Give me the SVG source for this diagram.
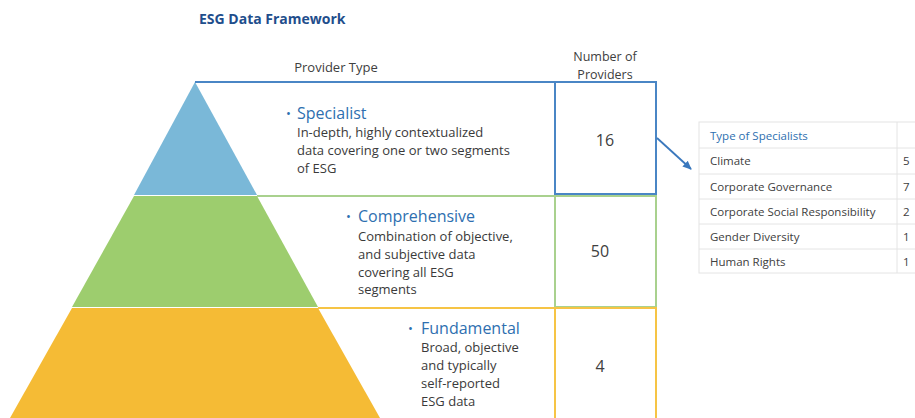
<svg xmlns="http://www.w3.org/2000/svg" width="915" height="418" viewBox="0 0 915 418">
<defs>
<style>
text{font-family:"Open Sans","Noto Sans","Liberation Sans",sans-serif;}
.title{font-size:14px;font-weight:bold;fill:#1f4e8c;}
.hdr{font-size:13px;fill:#404040;}
.hdr2{font-size:12.5px;fill:#404040;}
.head{font-size:16px;fill:#2e6fb0;}
.bul{font-size:13px;fill:#2e6fb0;}
.desc{font-size:13px;fill:#3a3a3a;}
.num{font-size:16px;fill:#404040;text-anchor:middle;}
.tbl{font-size:11.5px;fill:#404040;}
.tblh{font-size:11.5px;fill:#2e6fb0;}
.grid{stroke:#e4e4e4;stroke-width:1;fill:none;}
</style>
<marker id="ah" markerWidth="10" markerHeight="10" refX="8" refY="5" orient="auto" markerUnits="userSpaceOnUse">
<path d="M0,1 L9,5 L0,9 z" fill="#3a78bd"/>
</marker>
</defs>
<rect width="915" height="418" fill="#ffffff"/>
<text class="title" x="199" y="24">ESG Data Framework</text>
<text class="hdr" x="336" y="72" text-anchor="middle">Provider Type</text>
<text class="hdr2" x="605" y="61" text-anchor="middle">Number of</text>
<text class="hdr2" x="605" y="79" text-anchor="middle">Providers</text>

<g id="specialist">
<polygon points="195,82 257,195 134,195" fill="#7ab8d8"/>
<line x1="195" y1="82" x2="656" y2="82" stroke="#4a86c5" stroke-width="2"/>
<rect x="555" y="82" width="101" height="112" fill="none" stroke="#4a86c5" stroke-width="2"/>
<text class="bul" x="286" y="118">•</text>
<text class="head" x="297" y="119">Specialist</text>
<text class="desc" x="297" y="137">In-depth, highly contextualized</text>
<text class="desc" x="297" y="155">data covering one or two segments</text>
<text class="desc" x="297" y="173">of ESG</text>
<text class="num" x="605" y="146">16</text>
</g>

<g id="comprehensive">
<polygon points="134,196 257,196 318,307 72,307" fill="#9dcd6e"/>
<line x1="257" y1="196" x2="656" y2="196" stroke="#a9d18e" stroke-width="2"/>
<rect x="555" y="196" width="101" height="111" fill="none" stroke="#a9d18e" stroke-width="2"/>
<text class="bul" x="346" y="221">•</text>
<text class="head" x="358" y="222">Comprehensive</text>
<text class="desc" x="358" y="241">Combination of objective,</text>
<text class="desc" x="358" y="259">and subjective data</text>
<text class="desc" x="358" y="277">covering all ESG</text>
<text class="desc" x="358" y="294">segments</text>
<text class="num" x="600" y="257">50</text>
</g>

<g id="fundamental">
<polygon points="72,308 318,308 380,418 10,418" fill="#f5bb35"/>
<line x1="318" y1="308" x2="656" y2="308" stroke="#f6c445" stroke-width="2"/>
<rect x="555" y="308" width="101" height="112" fill="none" stroke="#f6c445" stroke-width="2"/>
<text class="bul" x="408" y="333">•</text>
<text class="head" x="421" y="334">Fundamental</text>
<text class="desc" x="421" y="352">Broad, objective</text>
<text class="desc" x="421" y="370">and typically</text>
<text class="desc" x="421" y="388">self-reported</text>
<text class="desc" x="421" y="406">ESG data</text>
<text class="num" x="600" y="372">4</text>
</g>

<g id="specialist-table">
<rect x="699" y="122" width="230" height="151" class="grid"/>
<line class="grid" x1="699" y1="148" x2="915" y2="148"/>
<line class="grid" x1="699" y1="174" x2="915" y2="174"/>
<line class="grid" x1="699" y1="199" x2="915" y2="199"/>
<line class="grid" x1="699" y1="224" x2="915" y2="224"/>
<line class="grid" x1="699" y1="249" x2="915" y2="249"/>
<line class="grid" x1="897" y1="122" x2="897" y2="273"/>
<text class="tblh" x="710" y="140">Type of Specialists</text>
<text class="tbl" x="710" y="165">Climate</text>
<text class="tbl" x="710" y="191">Corporate Governance</text>
<text class="tbl" x="710" y="216">Corporate Social Responsibility</text>
<text class="tbl" x="710" y="241">Gender Diversity</text>
<text class="tbl" x="710" y="266">Human Rights</text>
<text class="tbl" x="903" y="165">5</text>
<text class="tbl" x="903" y="191">7</text>
<text class="tbl" x="903" y="216">2</text>
<text class="tbl" x="903" y="241">1</text>
<text class="tbl" x="903" y="266">1</text>
</g>

<g id="connectors">
<line x1="657" y1="138" x2="691" y2="169" stroke="#3a78bd" stroke-width="1.8" marker-end="url(#ah)"/>
</g>
</svg>
